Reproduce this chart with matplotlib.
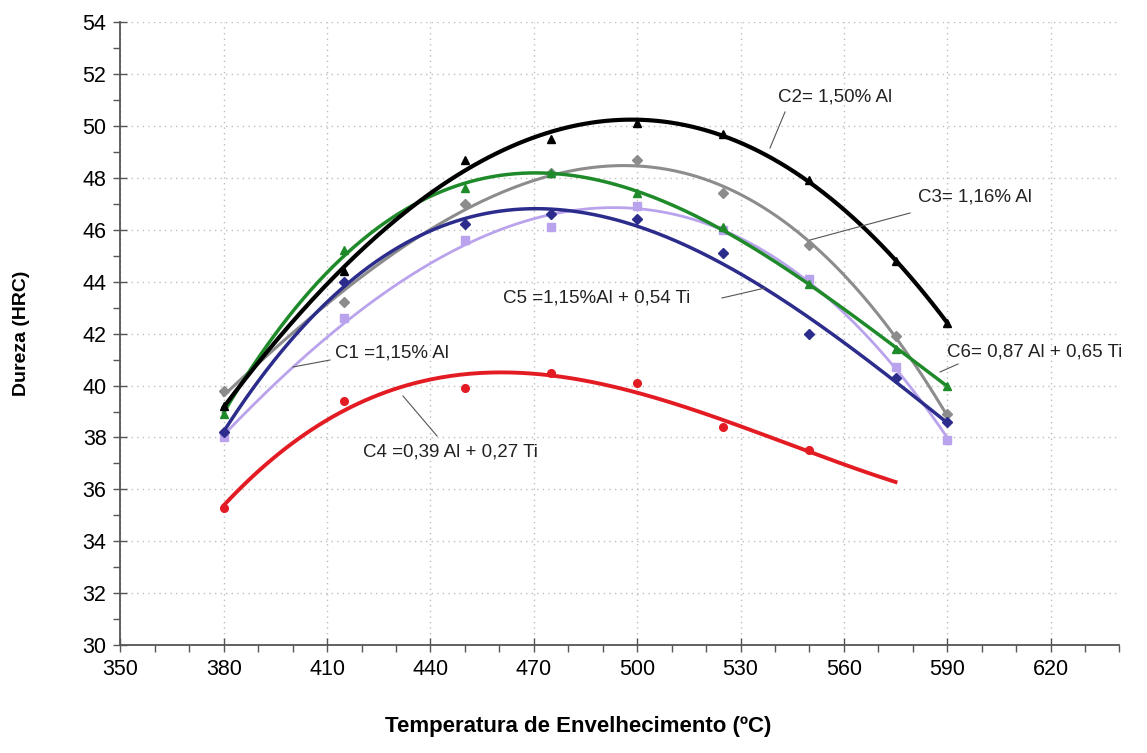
import numpy as np
import matplotlib.pyplot as plt
from matplotlib.lines import Line2D

plt.rcParams['font.family'] = ['Liberation Sans', 'DejaVu Sans']

# temperaturas de envelhecimento (C)
temp = [380, 415, 450, 475, 500, 525, 550, 575, 590]
temp_c4 = [380, 415, 450, 475, 500, 525, 550]

# dureza HRC
c1 = [38.0, 42.6, 45.6, 46.1, 46.9, 46.0, 44.1, 40.7, 37.9]
c2 = [39.2, 44.4, 48.7, 49.5, 50.1, 49.7, 47.9, 44.8, 42.4]
c3 = [39.8, 43.2, 47.0, 48.2, 48.7, 47.4, 45.4, 41.9, 38.9]
c4 = [35.3, 39.4, 39.9, 40.5, 40.1, 38.4, 37.5]
c5 = [38.2, 44.0, 46.2, 46.6, 46.4, 45.1, 42.0, 40.3, 38.6]
c6 = [38.9, 45.2, 47.6, 48.2, 47.4, 46.1, 43.9, 41.4, 40.0]

series = [
    # x, y, cor, marcador, espessura, fim da linha de tendencia
    (temp, c1, '#b9a3ec', 's', 2.0, 590),
    (temp, c3, '#8c8c8c', 'D', 2.2, 590),
    (temp, c5, '#2c2c8c', 'D', 2.5, 590),
    (temp, c6, '#1f8a2a', '^', 2.5, 590),
    (temp, c2, '#000000', '^', 3.0, 590),
    (temp_c4, c4, '#e31b23', 'o', 2.8, 575),
]

fig = plt.figure(figsize=(11.47, 7.53), dpi=100)
ax = fig.add_axes([0.105, 0.143, 0.871, 0.828])

for x, y, cor, mk, lw, xfim in series:
    ax.plot(x, y, linestyle='none', marker=mk, color=cor, markersize=5.5)
    coef = np.polyfit(x, y, 3)
    xs = np.linspace(x[0], xfim, 200)
    ax.plot(xs, np.polyval(coef, xs), color=cor, linewidth=lw)

ax.set_xlim(350, 640)
ax.set_ylim(30, 54)
ax.set_xticks(np.arange(350, 641, 30))
ax.set_xticks(np.arange(350, 641, 10), minor=True)
ax.set_yticks(np.arange(30, 55, 2))
ax.set_yticks(np.arange(30, 55, 1), minor=True)
ax.grid(True, which='major', linestyle=(0, (1, 3)), color='#bdbdbd', linewidth=1)
ax.set_axisbelow(True)

for s in ['top', 'right']:
    ax.spines[s].set_visible(False)
for s in ['left', 'bottom']:
    ax.spines[s].set_color('#555555')
    ax.spines[s].set_linewidth(1.3)

ax.tick_params(which='major', direction='inout', length=10, width=1, color='#555555',
               labelsize=15.5, pad=5)
ax.tick_params(which='minor', direction='out', length=5, width=1, color='#555555')

ax.set_xlabel('Temperatura de Envelhecimento (ºC)', fontsize=16, fontweight='bold', labelpad=26)
ax.xaxis.label.set_x(0.458)
ax.set_ylabel('Dureza (HRC)', fontsize=14, fontweight='bold', labelpad=38)

# rotulos com linhas de chamada (posicoes em pixels da figura)
rotulos = [
    ('C2= 1,50% Al', (785, 112), (770, 148), (778, 97)),
    ('C3= 1,16% Al', (910, 213), (810, 240), (918, 197)),
    ('C5 =1,15%Al + 0,54 Ti', (722, 298), (765, 288), (503, 298)),
    ('C6= 0,87 Al + 0,65 Ti', (958, 364), (940, 372), (947, 352)),
    ('C1 =1,15% Al', (330, 360), (293, 367), (335, 353)),
    ('C4 =0,39 Al + 0,27 Ti', (403, 396), (437, 436), (363, 452)),
]
W, H = 1147, 753
for txt, p0, p1, pos in rotulos:
    fig.add_artist(Line2D([p0[0] / W, p1[0] / W], [1 - p0[1] / H, 1 - p1[1] / H],
                          transform=fig.transFigure, color='#555555', linewidth=0.8))
    fig.text(pos[0] / W, 1 - pos[1] / H, txt, fontsize=13.5, va='center', ha='left',
             color='#222222')

fig.savefig('out.png', dpi=100)
